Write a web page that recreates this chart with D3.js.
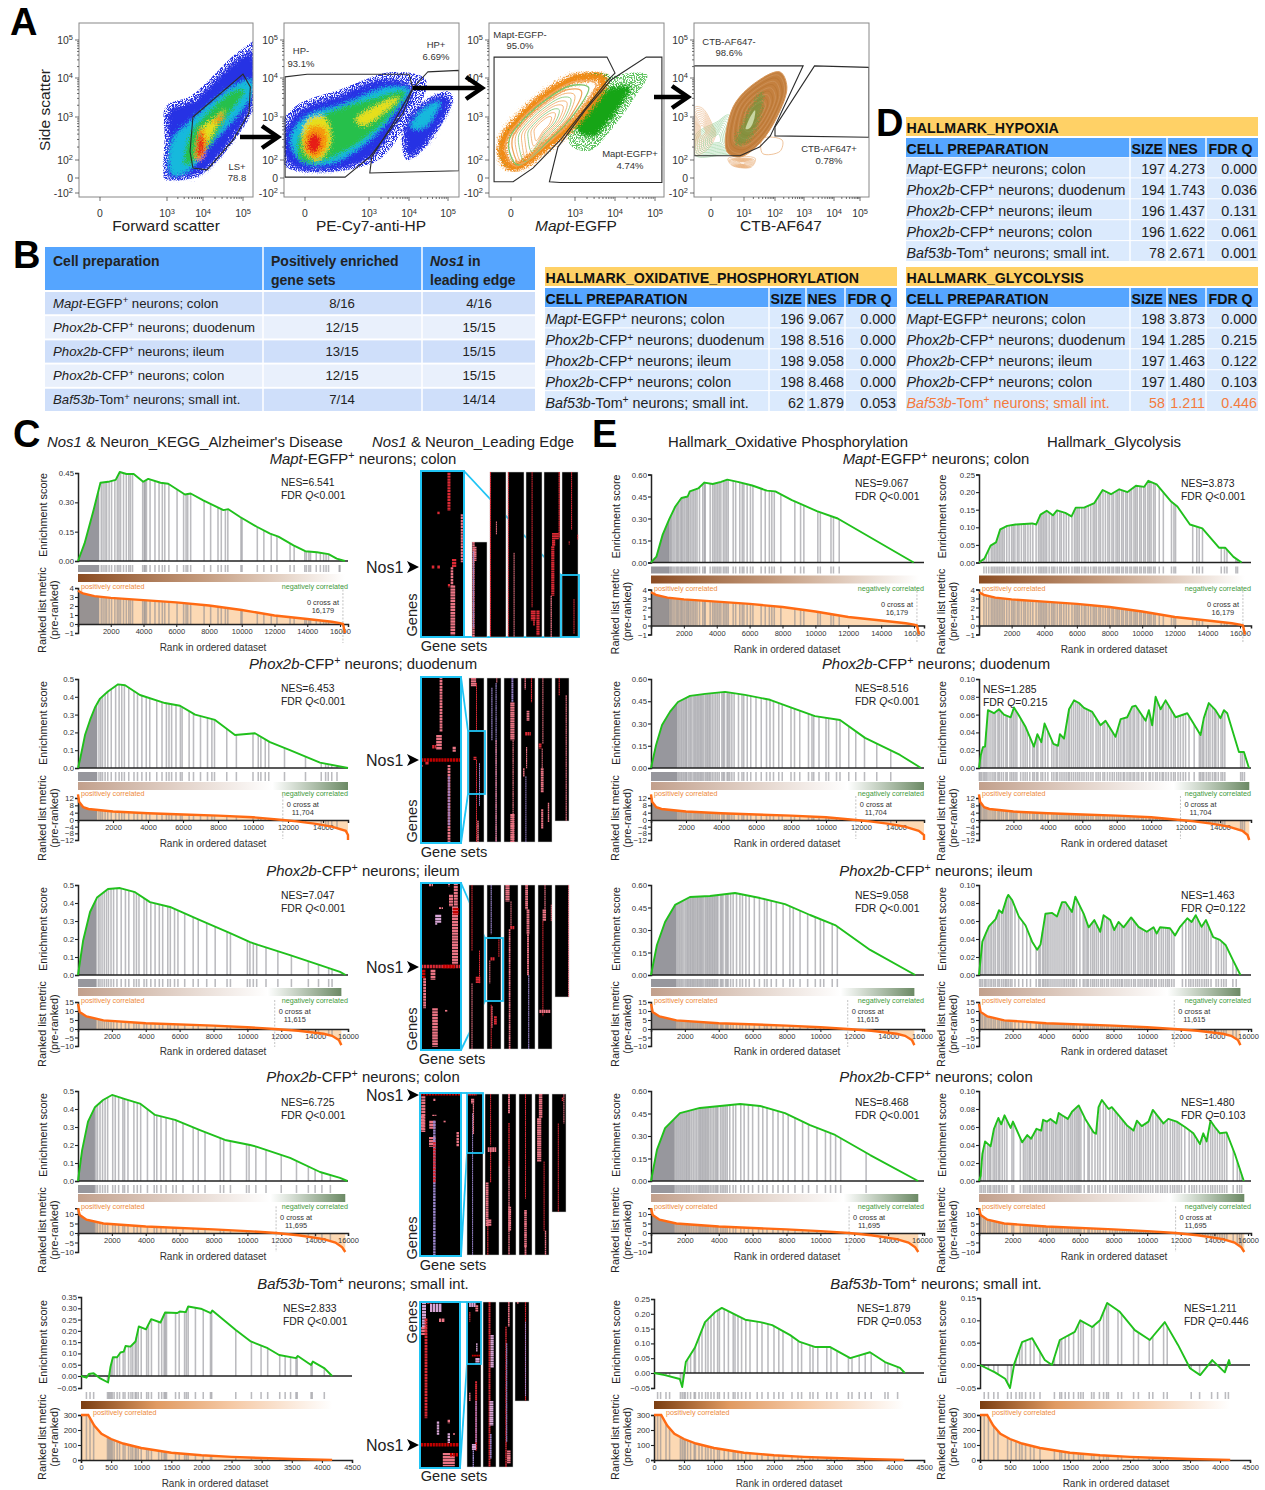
<!DOCTYPE html>
<html>
<head>
<meta charset="utf-8">
<script src="https://cdnjs.cloudflare.com/ajax/libs/d3/7.8.5/d3.min.js"></script>
<style>
body { margin: 0; background: #fff; }
text { font-family: "Liberation Sans", Arial, sans-serif; fill: #222; }
</style>
</head>
<body>
<svg id="fig" width="1265" height="1490"></svg>
<script>
// ---------- tables ----------
var prepLabels = [
  [["Mapt", "i"], ["-EGFP"], ["+", "s"], [" neurons; colon"]],
  [["Phox2b", "i"], ["-CFP"], ["+", "s"], [" neurons; duodenum"]],
  [["Phox2b", "i"], ["-CFP"], ["+", "s"], [" neurons; ileum"]],
  [["Phox2b", "i"], ["-CFP"], ["+", "s"], [" neurons; colon"]],
  [["Baf53b", "i"], ["-Tom"], ["+", "s"], [" neurons; small int."]]
];
var tableBEnriched = ["8/16", "12/15", "13/15", "12/15", "7/14"];
var tableBLeading = ["4/16", "15/15", "15/15", "15/15", "14/14"];

var hypoxiaSize = [197, 194, 196, 196, 78];
var hypoxiaNes = ["4.273", "1.743", "1.437", "1.622", "2.671"];
var hypoxiaFdr = ["0.000", "0.036", "0.131", "0.061", "0.001"];
var oxphosSize = [196, 198, 198, 198, 62];
var oxphosNes = ["9.067", "8.516", "9.058", "8.468", "1.879"];
var oxphosFdr = ["0.000", "0.000", "0.000", "0.000", "0.053"];
var glycSize = [198, 194, 197, 197, 58];
var glycNes = ["3.873", "1.285", "1.463", "1.480", "1.211"];
var glycFdr = ["0.000", "0.215", "0.122", "0.103", "0.446"];

// ---------- gsea: running score curves, [rank, score] ----------
var esAlz1 = [[0,0],[400,.09],[920,.25],[1370,.40],[1840,.405],[2300,.415],[2550,.455],[2960,.445],[3400,.445],[3980,.405],[4290,.42],[5040,.40],[5510,.395],[6530,.34],[6880,.345],[7650,.31],[8880,.26],[9180,.265],[9900,.225],[10920,.175],[11730,.14],[12240,.125],[13160,.08],[13880,.05],[14590,.045],[15300,.035],[15800,.012],[16300,0]];
var esAlz2 = [[0,0],[110,.045],[400,.185],[690,.27],[970,.34],[1260,.39],[1710,.43],[2290,.47],[2690,.465],[3540,.41],[4970,.365],[5830,.35],[6690,.30],[7830,.27],[8970,.185],[10110,.195],[10970,.145],[12110,.10],[13830,.03],[15430,0]];
var esAlz3 = [[0,0],[300,.19],[710,.35],[1120,.43],[1770,.478],[2480,.483],[3370,.46],[4250,.405],[5430,.378],[7200,.305],[8980,.233],[10160,.183],[10630,.167],[12520,.11],[14290,.055],[15470,.017],[15800,0]];
var esAlz4 = [[0,0],[240,.17],[590,.33],[1000,.41],[1480,.45],[2010,.478],[2780,.455],[3660,.43],[4550,.367],[5730,.34],[7200,.283],[8680,.228],[10160,.20],[10570,.19],[12520,.128],[14290,.05],[15470,.017],[15900,0]];
var esAlz5 = [[0,0],[90,-.007],[130,.009],[210,.012],[320,-.01],[450,-.027],[490,.041],[530,.083],[600,.083],[655,.104],[710,.108],[740,.133],[820,.13],[905,.153],[960,.22],[1080,.207],[1165,.252],[1320,.237],[1395,.281],[1600,.279],[1640,.286],[1740,.283],[1780,.308],[1990,.298],[2155,.279],[2180,.29],[2570,.204],[2820,.153],[3100,.123],[3290,.093],[3570,.079],[3600,.089],[3820,.049],[3850,.064],[4045,.034],[4170,0]];

var esOx1 = [[0,0],[330,.04],[710,.19],[1090,.29],[1470,.38],[1850,.44],[2230,.45],[2360,.485],[2870,.505],[3250,.545],[3750,.535],[4260,.55],[4640,.565],[5280,.55],[6160,.525],[7050,.49],[7560,.485],[8570,.425],[9200,.395],[10090,.35],[11360,.30],[15980,0]];
var esOx2 = [[0,0],[290,.155],[630,.29],[1090,.38],[1540,.445],[2230,.486],[3090,.50],[4230,.513],[5370,.493],[6800,.46],[7940,.41],[9370,.35],[10800,.324],[12230,.203],[14230,.088],[15430,0]];
var esOx3 = [[0,0],[350,.2],[830,.353],[1420,.467],[2300,.52],[3480,.527],[4960,.547],[6440,.513],[7910,.473],[9390,.40],[10870,.333],[12940,.167],[15600,0]];
var esOx4 = [[0,0],[350,.207],[830,.353],[1710,.453],[2890,.487],[4080,.50],[5260,.513],[6440,.50],[7910,.453],[9390,.373],[10870,.307],[12940,.173],[15770,0]];
var esOx5 = [[0,0],[180,-.007],[430,-.02],[470,-.047],[530,.037],[680,.085],[850,.172],[1020,.206],[1130,.22],[1520,.18],[1770,.172],[1970,.162],[2270,.128],[2430,.105],[2680,.088],[2930,.088],[3270,.05],[3600,.07],[3850,.037],[4100,.017],[4180,0]];

var esGly1 = [[0,0],[330,.011],[710,.048],[1040,.057],[1300,.094],[1730,.104],[2240,.108],[3260,.111],[3510,.108],[3770,.136],[4150,.147],[4530,.134],[4780,.148],[5290,.141],[5670,.131],[5930,.156],[6440,.156],[7070,.169],[7580,.206],[8090,.194],[8600,.208],[9110,.20],[9620,.218],[10130,.215],[10380,.232],[10890,.222],[11780,.173],[12160,.159],[12930,.108],[13690,.097],[14710,.042],[15090,.042],[15600,.016],[16100,0]];
var esGly2 = [[0,0],[100,.014],[230,.0235],[350,.024],[520,.065],[870,.0616],[1160,.066],[1450,.06],[1840,.057],[2030,.068],[2320,.059],[2710,.046],[3190,.024],[3390,.038],[3620,.029],[3810,.05],[4320,.027],[4590,.025],[4700,.038],[4940,.033],[5230,.066],[5520,.076],[5810,.073],[6100,.0675],[6580,.063],[7060,.048],[7350,.053],[7930,.035],[8230,.055],[8610,.057],[8900,.069],[9100,.07],[9680,.053],[9870,.065],[10060,.048],[10260,.08],[10550,.066],[10840,.076],[11420,.057],[12100,.0615],[12870,.037],[13060,.056],[13350,.073],[13740,.065],[14030,.056],[14230,.065],[14420,.0615],[15100,.018],[15390,.018],[15680,0]];
var esGly3 = [[0,0],[60,.011],[200,.037],[400,.046],[590,.054],[990,.062],[1190,.072],[1380,.069],[1640,.085],[1740,.089],[1980,.083],[2370,.065],[2770,.055],[3160,.037],[3460,.028],[3660,.034],[3950,.068],[4350,.069],[4640,.065],[4940,.081],[5140,.081],[5530,.07],[5730,.087],[6230,.068],[6520,.053],[6860,.061],[7210,.048],[7410,.0665],[7810,.061],[8040,.05],[8300,.059],[8600,.053],[9050,.064],[9490,.0535],[9980,.048],[10380,.053],[10570,.046],[10770,.053],[11360,.052],[11660,.044],[11960,.0535],[12390,.063],[12650,.059],[12890,.0665],[13240,.0535],[13500,.061],[13930,.042],[14330,.039],[14680,.033],[15120,.016],[15550,0]];
var esGly4 = [[0,0],[100,.006],[200,.03],[360,.044],[690,.0385],[890,.058],[1150,.07],[1320,.063],[1520,.073],[1880,.059],[2020,.066],[2570,.043],[2870,.051],[3100,.047],[3420,.058],[3700,.056],[3810,.068],[4050,.066],[4250,.069],[4600,.064],[4740,.0755],[4940,.073],[5280,.069],[5530,.077],[5930,.084],[6320,.069],[6820,.054],[6960,.0525],[7110,.082],[7310,.09],[7710,.08],[7900,.082],[8400,.071],[8790,.062],[9190,.056],[9390,.067],[9680,.061],[10080,.066],[10340,.079],[10970,.064],[11260,.069],[11760,.066],[12250,.06],[12750,.053],[13140,.041],[13340,.053],[13540,.044],[13770,.067],[14030,.06],[14330,.053],[14720,.054],[15220,.03],[15750,0]];
var esGly5 = [[0,0],[250,-.016],[420,-.03],[500,-.05],[570,.002],[700,.051],[870,.06],[1080,.011],[1200,0],[1330,.056],[1580,.074],[1670,.10],[1870,.085],[2000,.10],[2120,.139],[2330,.119],[2580,.078],[2830,.056],[3080,.096],[3300,.045],[3500,-.007],[3670,-.022],[3870,.011],[4080,-.016],[4150,.011],[4170,0]];

// ---------- gsea: gene hit ranks, and solid runs of hits ----------
var hitsAlz1 = [1420,1530,1650,1750,1900,2050,2250,2400,2500,2600,2780,2950,3100,3200,3330,3950,4050,4100,4180,4400,4700,4950,5150,5300,5550,6050,6450,6600,6700,6880,7700,8100,8550,8750,9000,9150,9950,10020,10950,11350,11800,12150,12950,13200,13850,13950,14100,14200,14550,14800,15000,15150,15300,15950,16000];
var hitsAlz2 = [1200,1300,1400,1550,1700,1900,2150,2350,2500,2650,2900,3200,3400,3650,3900,4100,4500,4800,5050,5200,5350,5600,5850,5950,6350,6600,7000,7400,7650,7800,8500,9050,10000,10300,10450,10700,10900,11800,13000,13900,14150,14300,14500,14800];
var hitsAlz3 = [1200,1300,1420,1550,1680,1800,1950,2100,2300,2550,2800,3000,3300,3450,3600,3900,4050,4300,4550,4800,5000,5300,5450,5700,5900,6300,6800,7100,7600,8100,8800,9000,10000,10150,10350,10550,11100,11800,12600,13600,14200,14800,15000];
var hitsAlz4 = [1050,1150,1300,1450,1600,1750,2050,2200,2400,2650,2750,2950,3300,3500,3700,4100,4500,4650,4900,5200,5600,5800,6200,6800,7100,7500,8400,8600,9000,9950,10100,10500,11100,12000,12900,13600,14000,14400,14900];
var hitsAlz5 = [90,150,210,440,460,480,500,520,550,600,640,700,730,790,830,860,900,920,950,1000,1090,1120,1170,1290,1340,1380,1400,1420,1570,1630,1720,1750,1780,1900,2030,2150,2170,2570,2830,2990,3100,3300,3390,3480,3570,3590,3820,3840,4040];

var hitsOx1 = [1130,1190,1260,1350,1450,1550,1620,1700,1800,1870,1950,2050,2150,2230,2300,2400,2500,2600,2700,2800,2950,3150,3250,3300,3600,3750,3850,3950,4050,4150,4250,4400,4500,4600,4700,5000,5150,5400,5550,5650,5850,6050,6200,6700,6950,7200,7350,7500,7900,8750,9100,9300,10150,10300,10950,11100,11450];
var hitsOx2 = [1540,1610,1690,1760,1840,1920,1990,2050,2150,2230,2300,2400,2480,2550,2630,2700,2780,2850,2920,3000,3100,3180,3250,3330,3400,3500,3600,3700,3800,3900,4050,4130,4200,4350,4420,4500,4620,4750,5000,5200,5300,5500,5700,6000,6300,6600,6800,7000,7300,7500,8000,8200,8500,9000,9200,9300,9600,10000,10150,10600,10800,11300,11700,12200,12900,13700];
var hitsOx3 = [1540,1620,1700,1780,1860,1950,2050,2130,2200,2280,2350,2430,2500,2570,2650,2730,2800,2880,2950,3020,3100,3200,3280,3350,3430,3500,3580,3650,3730,3800,3880,3950,4100,4170,4250,4400,4480,4550,4700,4850,5050,5250,5400,5600,5800,6100,6400,6700,6850,7100,7400,7800,8200,8400,8800,9250,9700,10000,10200,10700,11000];
var hitsOx4 = [1440,1520,1600,1680,1760,1840,1920,2000,2080,2150,2230,2300,2400,2500,2600,2700,2800,2880,2950,3030,3100,3180,3250,3330,3400,3500,3600,3700,3800,3880,3950,4100,4200,4300,4400,4500,4650,4850,5000,5300,5500,5750,6000,6350,6600,6850,7200,7500,7800,8100,8500,8950,9300,9800,10300,10600,10900,11200,12700];
var hitsOx5 = [60,110,200,260,440,470,500,520,560,610,670,690,750,800,860,900,950,1000,1060,1090,1170,1240,1320,1350,1400,1460,1530,1600,1720,1800,1900,2000,2080,2150,2300,2400,2460,2600,2650,2730,2880,2950,3050,3240,3300,3420,3520,3620,3850,3900,4060];

var hitsGly1 = [300,450,600,750,850,950,1050,1150,1250,1350,1450,1550,1700,1850,2000,2100,2200,2350,2450,2600,2750,2850,3000,3150,3300,3500,3650,3750,3850,3950,4050,4150,4300,4450,4550,4650,4800,4950,5050,5200,5350,5500,5700,5850,5950,6050,6150,6300,6450,6550,6700,6850,7000,7100,7200,7350,7450,7600,7750,7900,8000,8150,8250,8400,8500,8600,8750,8850,9000,9100,9250,9350,9500,9600,9700,9850,9950,10100,10200,10350,10450,10550,10700,10800,11050,11300,11800,11950,12050,13100,13350,13500,13700,14850,15050,15200,15750,15850];
var hitsGly2 = [20,80,160,260,340,420,520,640,760,870,960,1100,1180,1300,1420,1560,1640,1800,1900,2000,2100,2200,2420,2560,2680,2800,2950,3120,3210,3340,3420,3600,3700,3850,4000,4230,4350,4480,4560,4700,4820,4940,5060,5180,5260,5380,5500,5620,5740,5850,5980,6100,6240,6360,6500,6620,6800,6920,7040,7200,7300,7460,7600,7740,7860,8000,8120,8240,8380,8460,8600,8720,8820,8950,9040,9180,9280,9440,9540,9700,9880,9960,10100,10260,10360,10500,10640,10720,10860,11000,11160,11300,11400,11560,11700,11860,12000,12200,12500,12800,12880,12980,13060,13200,13320,13420,13560,13680,13760,13900,14060,14160,14280,15200,15300,15420];
var hitsGly3 = [40,120,220,340,420,540,660,760,880,980,1120,1210,1340,1450,1560,1640,1740,1860,1960,2140,2360,2600,2840,3060,3400,3560,3640,3780,3860,3960,4060,4160,4280,4400,4520,4640,4760,4880,5000,5100,5220,5340,5460,5580,5660,5800,6000,6200,6300,6420,6500,6640,6760,6860,6980,7100,7240,7340,7460,7600,7700,7860,7980,8100,8220,8340,8460,8540,8680,8800,8920,9060,9200,9300,9460,9580,9700,9840,9960,10060,10200,10300,10440,10540,10700,10840,10960,11100,11220,11320,11460,11600,12100,12300,12480,12600,12740,12880,13000,13120,13260,13400,13520,13640,13800,14100,14240,14420,14560,14700,15100,15300];
var hitsGly4 = [60,160,280,380,520,620,700,840,940,1040,1160,1240,1380,1520,1660,1960,2060,2460,2640,2740,2860,2980,3060,3180,3320,3420,3560,3660,3780,3860,3980,4060,4200,4320,4420,4540,4640,4760,4860,4960,5100,5240,5340,5460,5560,5680,5780,5880,5960,6060,6260,6480,6560,6720,6900,7060,7200,7400,7540,7780,7940,8100,8220,8380,8520,8640,8780,8900,9000,9120,9260,9400,9540,9640,9780,9920,10060,10200,10340,10520,10640,10800,10920,11060,11200,11380,11520,11640,11780,11900,12040,12240,12500,12660,12800,12940,13120,13300,13460,13620,13780,13900,14040,14180,14320,14460,14600,14740,15120,15360,15500,15620];
var hitsGly5 = [70,140,230,300,460,520,600,660,700,760,840,900,1000,1240,1330,1360,1420,1480,1560,1640,1680,1720,1860,1900,1990,2060,2110,2140,2300,2360,2560,2640,2820,2880,3060,3120,3520,3660,3860,3960,4090,4140];

var bandsAlz1 = [[0,1300]], bandsAlz2 = [[0,1100]], bandsAlz3 = [[0,1100]], bandsAlz4 = [[0,1000]], bandsAlz5 = [];
var bandsOx1 = [[0,1100]], bandsOx2 = [[0,1500]], bandsOx3 = [[0,1500]], bandsOx4 = [[0,1400]], bandsOx5 = [];

// ---------- gsea: ranked list metric, [rank, metric] ----------
var metricMapt = [[0,3.7],[300,3.4],[1000,3.1],[2000,2.9],[4000,2.65],[6000,2.4],[8000,2.05],[10000,1.55],[12000,.95],[14000,.55],[15500,.25],[16000,.1],[16179,0],[16230,-.4],[16300,-1]];
var metricDuo = [[0,14],[60,10],[300,7],[600,6],[2000,4.6],[4000,3.7],[6000,3],[8000,2.4],[10000,1.5],[11704,0],[12500,-.8],[13500,-2.2],[14500,-4],[15300,-6.5],[15600,-9],[15700,-12]];
var metricIle = [[0,14],[100,9.5],[500,7],[1500,4.8],[4000,3.2],[8000,1.9],[10000,1],[11615,0],[13000,-1],[14500,-2.8],[15000,-4],[15400,-6.5],[15550,-9.5]];
var metricCol = [[0,13],[100,9.5],[500,7],[1500,5],[4000,3.4],[8000,1.9],[10000,1],[11695,0],[13000,-1.2],[14500,-3.2],[15200,-5],[15600,-7.5],[15780,-10]];
var metricBaf = [[0,300],[120,300],[220,230],[340,175],[500,140],[700,110],[1000,80],[1500,48],[2000,32],[2500,21],[3000,13],[3500,7],[4170,1]];

var xTicks14 = [2000,4000,6000,8000,10000,12000,14000];
var xTicks16 = [2000,4000,6000,8000,10000,12000,14000,16000];
var xTicksBaf = [0,500,1000,1500,2000,2500,3000,3500,4000,4500];
var metricTicks = [[-1,0,1,2,3,4],[-12,-8,-4,0,4,8,12],[-10,-5,0,5,10,15],[-10,-5,0,5,10],[0,100,200,300]];
var esTicksAlz = [[0,.15,.3,.45],[0,.1,.2,.3,.4,.5],[0,.1,.2,.3,.4,.5],[0,.1,.2,.3,.4,.5],[-.05,0,.05,.1,.15,.2,.25,.3,.35]];
var esTicksOx = [[0,.15,.3,.45,.6],[0,.15,.3,.45,.6],[0,.15,.3,.45,.6],[0,.15,.3,.45,.6],[-.05,0,.05,.1,.15,.2,.25]];
var esTicksGly = [[0,.05,.1,.15,.2,.25],[0,.02,.04,.06,.08,.1],[0,.02,.04,.06,.08,.1],[0,.02,.04,.06,.08,.1],[-.05,0,.05,.1,.15]];

var nesAlz = ["6.541","6.453","7.047","6.725","2.833"];
var fdrAlz = ["<0.001","<0.001","<0.001","<0.001","<0.001"];
var nesOx = ["9.067","8.516","9.058","8.468","1.879"];
var fdrOx = ["<0.001","<0.001","<0.001","<0.001","=0.053"];
var nesGly = ["3.873","1.285","1.463","1.480","1.211"];
var fdrGly = ["<0.001","=0.215","=0.122","=0.103","=0.446"];
var zeroCross = [16179, 11704, 11615, 11695, null];

// ---------- leading edge heat maps: [strip, column, width, top, bottom, kind] ----------
// strip 0 is the enlarged one; everything else is a fraction of the strip
var heatMarks1 = [
  [0,.65,.07,.01,.24,"r"],[0,.41,.06,.245,.26,"r"],[0,.95,.05,.26,.55,"p"],[0,.28,.06,.57,.59,"r"],[0,.41,.06,.57,.59,"r"],[0,.77,.1,.53,.58,"r"],[0,.72,.06,.58,.69,"p"],[0,.65,.05,.68,.7,"r"],[0,.74,.11,.69,.99,"p"],
  [1,.1,.16,0,1,"p"],[1,.2,.2,.05,.2,"p"],[1,.1,.07,.1,.9,"b"],
  [2,.03,.07,0,1,"r"],[2,.4,.06,.3,.38,"p"],[3,.02,.05,0,1,"r"],[3,.38,.05,.49,1,"p"],
  [4,.38,.05,0,.82,"r"],[4,.45,.3,.84,.9,"r"],[4,.75,.2,.84,.99,"r"],[4,.5,.1,.88,.93,"r"],
  [5,.95,.08,0,.4,"r"],[5,.6,.2,.37,.45,"r"],[5,.55,.2,.45,.75,"r"],[5,.45,.08,.75,1,"p"],[5,.8,.25,.37,.41,"r"],
  [6,.6,.04,0,.35,"r"],[6,.98,.04,.38,.41,"r"],[6,.75,.06,.77,.98,"r"],[6,.45,.06,.42,.44,"r"]
];
var heatMarks2 = [
  [0,.5,.07,0,.33,"p"],[0,.45,.14,.35,.44,"p"],[0,.33,.1,.41,.43,"r"],[0,.83,.08,.42,.45,"p"],[0,.5,1,.49,.51,"d"],[0,.02,.05,.53,.54,"r"],[0,.15,.08,.51,.53,"r"],[0,.7,.07,.53,1,"p"],[0,.7,.04,.6,.9,"b"],
  [1,.3,.35,0,.05,"p"],[1,.5,.05,.03,.32,"r"],[1,.4,.2,.48,.5,"r"],[1,.5,.05,.5,1,"r"],[1,.7,.05,.52,.78,"b"],[1,.6,.1,.87,1,"p"],
  [2,.35,.08,.06,.38,"b"],[2,.7,.06,0,.03,"p"],[2,.65,.08,.03,1,"b"],[2,.65,.08,.38,1,"p"],
  [3,.6,.14,0,.15,"b"],[3,.6,.3,.15,.38,"p"],[3,.65,.08,.38,1,"p"],[3,.6,.3,.83,1,"p"],
  [4,.3,.1,0,.07,"p"],[4,.75,.08,0,.15,"r"],[4,.5,.2,.2,.26,"p"],[4,.5,.4,.33,.35,"r"],[4,.4,.08,.42,.55,"p"],[4,.2,.1,.55,.6,"p"],[4,.35,.05,.6,1,"b"],
  [5,.35,.06,0,.4,"p"],[5,.15,.2,.4,.43,"r"],[5,.3,.05,.43,.55,"p"],[5,.3,.2,.55,.7,"p"],[5,.3,.15,.8,.92,"p"],[5,.75,.1,.76,.88,"p"],
  [6,.3,.08,0,.12,"r"],[6,.8,.08,.12,1,"p"]
];
var heatMarks3 = [
  [0,.25,.1,0,.02,"p"],[0,.7,.05,0,.02,"p"],[0,.87,.1,0,.14,"p"],[0,.75,.1,.07,.14,"p"],[0,.85,.15,.14,.49,"p"],[0,.87,.14,.15,.19,"d"],[0,.5,.1,.145,.155,"p"],[0,.43,.15,.19,.24,"l"],[0,.38,.05,.24,.25,"l"],[0,.5,1,.49,.51,"r"],[0,.7,.3,.49,.51,"d"],[0,.05,.12,.52,.57,"d"],[0,.09,.07,.57,.75,"p"],[0,.3,.12,.52,.58,"p"],[0,.35,.14,.75,.98,"p"],[0,.63,.06,.76,.77,"p"],
  [1,.2,.05,0,.4,"r"],[1,.7,.05,.4,.6,"r"],[1,.6,.3,.56,.6,"r"],[1,.2,.05,.6,1,"p"],
  [2,.3,.08,0,.3,"b"],[2,.85,.06,.32,.44,"r"],[2,.4,.3,.44,.46,"r"],[2,.2,.06,.46,.6,"p"],[2,.35,.1,.74,.87,"p"],[2,.6,.2,.8,.85,"r"],[2,.3,.06,.73,1,"r"],
  [3,.25,.3,0,.1,"p"],[3,.5,.06,.1,.26,"p"],[3,.6,.3,.25,.27,"r"],[3,.4,.12,.27,1,"p"],
  [4,.4,.2,0,.15,"p"],[4,.5,.2,.15,.3,"p"],[4,.5,.14,.3,.55,"p"],[4,.55,.08,.55,1,"b"],
  [5,.5,.08,0,.15,"p"],[5,.45,.25,.15,.22,"p"],[5,.95,.04,.12,.22,"p"],[5,.35,.05,.22,.8,"r"],[5,.5,.8,.76,.78,"p"],
  [6,.97,.05,0,1,"p"]
];
var heatMarks4 = [
  [0,.5,1,0,.015,"d"],[0,.08,.1,.02,.24,"p"],[0,.05,.12,.14,.23,"p"],[0,.35,.05,.035,.05,"p"],[0,.35,.1,.135,.14,"p"],[0,.6,.05,.17,.18,"p"],[0,.3,.15,.17,.22,"p"],[0,.3,.16,.27,.33,"p"],[0,.35,.06,.17,1,"b"],[0,.35,.06,.3,.55,"r"],[0,.92,.06,.24,.33,"p"],
  [1,.35,.05,.12,1,"b"],[1,.3,.6,0,.01,"r"],[1,.35,.2,.03,.06,"p"],[1,.4,.08,.06,.25,"p"],
  [2,.4,.05,0,.32,"r"],[2,.5,.6,.33,.36,"p"],[2,.15,.2,.55,.82,"p"],[2,.4,.08,.36,.55,"r"],[2,.3,.3,.78,.82,"p"],[2,.2,.08,.82,1,"r"],
  [3,.5,.14,0,.12,"p"],[3,.5,.1,.18,.45,"r"],[3,.55,.2,.7,.85,"p"],[3,.5,.1,.45,1,"p"],
  [4,.5,.08,0,.65,"r"],[4,.5,.2,.72,.95,"p"],[4,.5,.14,.95,1,"p"],
  [5,.4,.25,0,.15,"p"],[5,.3,.3,.15,.42,"p"],[5,.65,.05,.42,.85,"r"],[5,.75,.1,.85,1,"p"],
  [6,.85,.06,0,.25,"p"],[6,.45,.05,.25,1,"r"],[6,.75,.1,.03,.06,"r"]
];
var heatMarks5 = [
  [0,.4,.3,.01,.06,"l"],[0,.1,.1,0,.15,"l"],[0,.1,.14,.15,.2,"p"],[0,.15,.07,.1,.7,"r"],[0,.22,.1,0,.01,"r"],[0,.55,.15,.1,.12,"p"],[0,.45,.06,.72,.8,"l"],[0,.72,.06,.71,.73,"p"],[0,.72,.06,.79,.85,"l"],[0,.85,.05,.79,.8,"p"],[0,.5,.95,.85,.87,"d"],[0,.72,.3,.91,.99,"p"],[0,.85,.2,.91,.93,"d"],
  [1,.4,.5,0,.03,"l"],[1,.7,.2,.02,.06,"p"],[1,.2,.08,.06,.12,"r"],[1,.7,.1,.25,.3,"l"],[1,.75,.8,.32,.33,"d"],[1,.75,.3,.34,.38,"l"],[1,.65,.14,.48,.9,"r"],[1,.65,.1,.6,.85,"b"],[1,.5,.3,.86,.9,"l"],[1,.45,.1,.9,1,"b"],[1,.2,.1,.55,.6,"p"],
  [2,.5,.15,0,1,"r"],[2,.7,.25,.2,.4,"l"],[2,.65,.3,.6,.75,"l"],[2,.6,.12,.8,.95,"b"],
  [3,.7,.12,0,.15,"p"],[3,.5,.1,.15,1,"r"],[3,.55,.08,.25,.85,"b"],[3,.7,.25,.9,.98,"p"],
  [4,.75,.08,0,1,"r"],[4,.75,.04,.2,.95,"b"],[4,.2,.1,0,.02,"p"]
];

// ---------- flow cytometry, polygons in decades of signal ----------
var flow1Density = [
  [0,[[3.03,.1],[3.03,2.53],[3.08,3.17],[3.72,3.41],[4.75,4.39],[5.25,4.65],[5.25,3.33],[4.75,2.53],[3.92,.55],[3.14,0]]],
  [1,[[3.14,.33],[3.14,2.46],[3.64,2.9],[4.8,3.82],[5.25,3.95],[5.25,3.56],[4.05,2.2],[3.64,.9]]],
  [2,[[3.5,1.45],[3.64,2.58],[4.18,3.17],[4.8,3.69],[5.05,3.69],[4.55,2.93],[4.05,2.2]]],
  [3,[[3.85,2.1],[3.95,2.7],[4.4,3.05],[4.55,3.2],[4.4,2.9],[4.05,2.3]]],
  [4,[[3.82,2.0],[3.84,2.5],[3.95,2.75],[4.08,2.5],[4.0,2.05]]],
  [4,[[4.25,2.85],[4.5,3.1],[4.45,2.9]]],
  [5,[[3.87,2.1],[3.87,2.45],[3.95,2.62],[4.01,2.45],[3.97,2.12]]]
];
var flow2Density = [
  [0,[[-1,2.58],[-.24,3.17],[1.64,3.56],[3.27,3.95],[4.03,3.82],[4.08,3.56],[3.65,2.81],[3.02,2.05],[1.17,.9],[-.7,1.5]]],
  [0,[[3.9,2.7],[4.15,3.17],[4.92,3.56],[5.05,3.4],[4.4,2.35],[4.0,2.1]]],
  [1,[[4.05,2.75],[4.3,3.15],[4.8,3.4],[4.4,2.75]]],
  [1,[[-.7,2.5],[0,3.0],[1.9,3.35],[3.4,3.75],[4.0,3.7],[3.6,3.05],[3.0,2.45],[1.2,1.6],[-.2,1.9]]],
  [2,[[-.3,2.5],[.7,3],[3,3.45],[3.9,3.65],[3.45,2.95],[2.2,2.3],[.7,1.8],[-.2,2]]],
  [3,[[-.05,2.2],[.1,2.9],[.9,3],[1.2,2.4],[.6,2]]],
  [3,[[2.4,2.95],[3.4,3.4],[3.75,3.5],[3.3,3.05],[2.7,2.8]]],
  [4,[[0,2.25],[.2,2.75],[.9,2.75],[1,2.3],[.5,2.05]]],
  [5,[[.1,2.3],[.3,2.6],[.7,2.55],[.7,2.3],[.4,2.15]]]
];
var flow3Cloud = [[2.77,2.7],[3.3,3.44],[3.9,3.95],[4.7,4],[4.4,3.44],[3.9,2.76],[3.4,2.3],[2.9,2.4]];
var flow3Band = [[-.35,2.46],[.05,2.77],[1.5,3.5],[3.05,4],[3.7,3.95],[3.2,3.1],[1.85,2.4],[.1,1.2],[-.35,2.07]];
var flow4Main = [[.48,2.2],[.67,3.26],[1.4,3.9],[2.17,4.16],[2.41,3.77],[2.07,3],[1.52,2.4],[.88,2.07]];
var flow4Inner = [[.75,2.35],[1.05,3],[1.6,3.65],[1.55,3.1],[1.15,2.45]];
var flow4Left = [[-.5,3.3],[-.25,3.27],[.06,2.85],[.18,2.6],[-.1,2.2],[-.5,2.07]];
var flow4Green = [[-.5,2.6],[.18,2.92],[.58,3.1],[.8,2.2],[.18,2.07],[-.5,2.07]];
var flow4Bottom = [[.48,2.07],[1.4,2.07],[1.27,1.2],[.88,1.1],[.58,1.45]];
var flow4Side = [[1.6,2.5],[2.25,2.46],[2.17,2.2],[1.6,2.15]];
var contourLevels = [.92,.84,.76,.68,.6,.52,.44,.36,.28,.2];

var gatesFlow1 = [[[3.72,3],[5,4.1],[5.22,3.77],[5.18,3.1],[4.75,2.46],[4.1,.9],[3.72,1.1],[3.64,2.2]]];
var gatesFlow2 = [
  [[-.95,4.03],[.1,4.1],[4,4.1],[4.1,3.74],[3.85,3.1],[3.02,2.07],[1.88,.1],[-.95,.1]],
  [[4.48,4.16],[5.3,4.2],[5.3,.8],[3.02,.55],[3.07,2.07],[3.6,2.85],[4.1,3.74]]
];
var gatesFlow3 = [
  [[-.77,4.55],[3.8,4.55],[4,4.13],[3.83,3.95],[2.3,2.46],[1.03,1.1],[.1,-.5],[-.77,-.5]],
  [[4.78,4.55],[5.23,4.55],[5.23,-.6],[2.3,-.6],[1.8,-.5],[2.2,2.3],[3.25,3.17],[3.9,3.95]]
];
var gatesFlow4 = [
  [[-.5,4.32],[2.97,4.32],[1.85,2.56],[1.5,2.3],[.88,2.1],[-.5,2.1]],
  [[3.35,4.32],[5.35,4.28],[5.35,2.53],[2,2.56],[2,2.77]]
];
var flowYTicks = [-2,0,2,3,4,5];
var flowXTicks = [[0,3,4,5],[0,3,4,5],[0,3,4,5],[0,1,2,3,4,5]];

// ---------- drawing ----------
var svg = d3.select("#fig");
var defs = svg.append("defs");

var grain = defs.append("filter").attr("id", "grain").attr("x", "-5%").attr("y", "-5%").attr("width", "110%").attr("height", "110%");
grain.append("feGaussianBlur").attr("in", "SourceGraphic").attr("stdDeviation", 1.6).attr("result", "soft");
grain.append("feTurbulence").attr("type", "fractalNoise").attr("baseFrequency", .75).attr("numOctaves", 2).attr("seed", 4).attr("result", "noise");
grain.append("feDisplacementMap").attr("in", "soft").attr("in2", "noise").attr("scale", 11).attr("xChannelSelector", "R").attr("yChannelSelector", "G");

var speck = defs.append("filter").attr("id", "speck").attr("x", "-5%").attr("y", "-5%").attr("width", "110%").attr("height", "110%");
speck.append("feTurbulence").attr("type", "fractalNoise").attr("baseFrequency", .9).attr("numOctaves", 1).attr("seed", 9).attr("result", "noise");
speck.append("feColorMatrix").attr("in", "noise").attr("type", "matrix").attr("values", "0 0 0 0 0 0 0 0 0 0 0 0 0 0 0 0 0 0 11 -5.0").attr("result", "dots");
speck.append("feComposite").attr("in", "SourceGraphic").attr("in2", "dots").attr("operator", "in");

function rich(t, segs) {
  var lift = false;
  segs.forEach(function(s) {
    var sp = t.append("tspan").text(s[0]);
    if (s[1] == "i") sp.attr("font-style", "italic");
    if (lift) { sp.attr("dy", "0.32em"); lift = false; }
    if (s[1] == "s") { sp.attr("font-size", "0.72em").attr("dy", "-0.45em"); lift = true; }
  });
  return t;
}
function label(x, y, txt, size, anchor, color) {
  var t = svg.append("text").attr("x", x).attr("y", y).attr("font-size", size)
    .attr("text-anchor", anchor || "start").style("fill", color || "#222");
  if (txt != null) t.text(txt);
  return t;
}
function vlabel(x, y, txt, size) {
  return svg.append("text").attr("transform", "translate(" + x + "," + y + ") rotate(-90)")
    .attr("text-anchor", "middle").attr("font-size", size).style("fill", "#222").text(txt);
}

// panel letters
[["A",10,35],["B",13,268],["C",13,447],["D",876,136],["E",592,447]].forEach(function(d) {
  label(d[1], d[2], d[0], 38).attr("font-weight", "bold").style("fill", "#000");
});

// ---------- panel A ----------
var jet = ["#2630e4", "#17b9dc", "#25c04c", "#e6df1e", "#f5980f", "#e61d16"];
var flowX = [
  d3.scaleLinear().domain([-1,0,3,4,5,5.3]).range([79,100,167,203,243,253]),
  d3.scaleLinear().domain([-1,0,3,4,5,5.3]).range([284,305,369,409,448,459]),
  d3.scaleLinear().domain([-1,0,3,4,5,5.3]).range([489,511,575,615,655,664]),
  d3.scaleLinear().domain([-.5,0,1,2,3,4,5,5.35]).range([694,711,744,775,804,834,860,869])
];
var flowY = d3.scaleLinear().domain([-2.6,-2,0,2,3,4,5,5.45]).range([197,193,178,160,117,78,40,23]);
var flowLine = function(i, curve) {
  return d3.line().x(function(d) { return flowX[i](d[0]); }).y(function(d) { return flowY(d[1]); }).curve(curve);
};
function shrink(poly, f) {
  var c = d3.polygonCentroid(poly);
  return poly.map(function(p) { return [c[0] + (p[0] - c[0]) * f, c[1] + (p[1] - c[1]) * f]; });
}

flowX.forEach(function(x, i) {
  var x0 = x.range()[0], x1 = x.range()[x.range().length - 1];
  var clip = defs.append("clipPath").attr("id", "flowclip" + i);
  clip.append("rect").attr("x", x0).attr("y", 23).attr("width", x1 - x0).attr("height", 174);
  var g = svg.append("g").attr("clip-path", "url(#flowclip" + i + ")");
  var smooth = flowLine(i, d3.curveCatmullRomClosed);
  var straight = flowLine(i, d3.curveLinearClosed);

  if (i < 2) {
    var layers = i == 0 ? flow1Density : flow2Density;
    layers.filter(function(l) { return l[0] == 0; }).forEach(function(l) {
      g.append("path").attr("d", smooth(shrink(l[1], 1.14))).attr("fill", jet[0]).attr("filter", "url(#speck)");
    });
    var dens = g.append("g").attr("filter", "url(#grain)");
    layers.forEach(function(l) {
      dens.append("path").attr("d", smooth(l[1])).attr("fill", jet[l[0]]);
    });
  }
  if (i == 2) {
    g.append("path").attr("d", smooth(shrink(flow3Cloud, 1.1))).attr("fill", "#5fc45f").attr("filter", "url(#speck)");
    g.append("path").attr("d", smooth(shrink(flow3Cloud, .72))).attr("fill", "#16a516").attr("filter", "url(#grain)");
    g.append("path").attr("d", smooth(shrink(flow3Band, 1.08))).attr("fill", "#2fa82f").attr("filter", "url(#speck)");
    g.append("path").attr("d", smooth(flow3Band)).attr("fill", "#fff");
    var band = g.append("g").attr("filter", "url(#grain)");
    band.append("path").attr("d", smooth(flow3Band)).attr("fill", "none").attr("stroke", "#f08a16").attr("stroke-width", 9);
    contourLevels.forEach(function(f, k) {
      g.append("path").attr("d", smooth(shrink(flow3Band, f))).attr("fill", "none")
        .attr("stroke", k % 3 == 1 ? "#7cc46c" : "#f0a45c").attr("stroke-width", k < 3 ? 1.3 : .8);
    });
  }
  if (i == 3) {
    contourLevels.forEach(function(f) {
      g.append("path").attr("d", smooth(shrink(flow4Left, f))).attr("fill", "none").attr("stroke", "#eab587").attr("stroke-width", .6);
      g.append("path").attr("d", smooth(shrink(flow4Green, f))).attr("fill", "none").attr("stroke", "#8fcf95").attr("stroke-width", .6);
      g.append("path").attr("d", smooth(shrink(flow4Bottom, f))).attr("fill", "none").attr("stroke", "#e8a970").attr("stroke-width", .6);
    });
    g.append("path").attr("d", smooth(flow4Side)).attr("fill", "none").attr("stroke", "#e8a970").attr("stroke-width", .7);
    g.append("path").attr("d", smooth(flow4Main)).attr("fill", "#c4803f").attr("stroke", "#d89a5e");
    contourLevels.forEach(function(f, k) {
      g.append("path").attr("d", smooth(shrink(flow4Main, f))).attr("fill", "none")
        .attr("stroke", k % 2 ? "#b87430" : "#cf9660").attr("stroke-width", .7);
    });
    g.append("path").attr("d", smooth(flow4Inner)).attr("fill", "#55a03f").attr("opacity", .55).attr("filter", "url(#grain)");
    g.append("path").attr("d", smooth(shrink(flow4Inner, .35))).attr("fill", "#c9d6a2");
  }
  [gatesFlow1, gatesFlow2, gatesFlow3, gatesFlow4][i].forEach(function(p) {
    g.append("path").attr("d", straight(p)).attr("fill", "none").attr("stroke", "#2c2c2c").attr("stroke-width", 1.1);
  });
  svg.append("rect").attr("x", x0).attr("y", 23).attr("width", x1 - x0).attr("height", 174)
    .attr("fill", "none").attr("stroke", "#888").attr("stroke-width", 1);

  // minor and major ticks
  var mt = svg.append("g").attr("stroke", "#333").attr("stroke-width", .7);
  [2,3,4].forEach(function(dec) {
    d3.range(2,10).forEach(function(k) {
      var v = dec + Math.log10(k);
      mt.append("line").attr("x1", x0).attr("x2", x0 - 2).attr("y1", flowY(v)).attr("y2", flowY(v));
    });
  });
  flowXTicks[i].slice(1).forEach(function(dec) {
    if (dec > 4) return;
    d3.range(2,10).forEach(function(k) {
      var v = dec + Math.log10(k);
      mt.append("line").attr("y1", 197).attr("y2", 199).attr("x1", x(v)).attr("x2", x(v));
    });
  });
  flowYTicks.forEach(function(v) {
    mt.append("line").attr("x1", x0).attr("x2", x0 - 4).attr("y1", flowY(v)).attr("y2", flowY(v));
    var t = label(x0 - 6, flowY(v) + 3.5, null, 10.4, "end", "#333");
    if (v == 0) t.text("0");
    else rich(t, [[v < 0 ? "-10" : "10"], [String(Math.abs(v)), "s"]]);
  });
  flowXTicks[i].forEach(function(v) {
    mt.append("line").attr("y1", 197).attr("y2", 201).attr("x1", x(v)).attr("x2", x(v));
    var t = label(x(v), 217, null, 10.4, "middle", "#333");
    if (v == 0) t.text("0");
    else rich(t, [["10"], [String(v), "s"]]);
  });
});

[[237,170,"LS+"],[237,181,"78.8"],[301,54,"HP-"],[301,67,"93.1%"],[436,48,"HP+"],[436,60,"6.69%"],[520,38,"Mapt-EGFP-"],[520,49,"95.0%"],[630,157,"Mapt-EGFP+"],[630,169,"4.74%"],[729,45,"CTB-AF647-"],[729,56,"98.6%"],[829,152,"CTB-AF647+"],[829,164,"0.78%"]].forEach(function(d) {
  label(d[0], d[1], d[2], 9.5, "middle", "#333");
});
vlabel(50, 110, "Side scatter", 15.5);
label(166, 231, "Forward scatter", 15.5, "middle");
label(371, 231, "PE-Cy7-anti-HP", 15.5, "middle");
rich(label(576, 231, null, 15.5, "middle"), [["Mapt", "i"], ["-EGFP"]]);
label(781, 231, "CTB-AF647", 15.5, "middle");

[[240,278,137],[413,482,88],[654,688,97]].forEach(function(a) {
  svg.append("line").attr("x1", a[0]).attr("x2", a[1] - 3).attr("y1", a[2]).attr("y2", a[2]).attr("stroke", "#000").attr("stroke-width", 4.5);
  svg.append("polyline").attr("points", [[a[1] - 16, a[2] - 11], [a[1], a[2]], [a[1] - 16, a[2] + 11]].join(" "))
    .attr("fill", "none").attr("stroke", "#000").attr("stroke-width", 4.5);
});

// ---------- tables ----------
var blue = "#55a5ff", gold = "#ffd166";
svg.append("rect").attr("x", 45).attr("y", 247).attr("width", 490).attr("height", 43).attr("fill", blue);
label(53, 266, "Cell preparation", 14).attr("font-weight", "bold");
label(271, 266, "Positively enriched", 14).attr("font-weight", "bold");
label(271, 285, "gene sets", 14).attr("font-weight", "bold");
rich(label(430, 266, null, 14), [["Nos1", "i"], [" in"]]).attr("font-weight", "bold");
label(430, 285, "leading edge", 14).attr("font-weight", "bold");
var rowB = d3.scaleBand().domain(d3.range(5)).range([292, 411]).paddingInner(.08);
prepLabels.forEach(function(p, i) {
  svg.append("rect").attr("x", 45).attr("y", rowB(i)).attr("width", 490).attr("height", rowB.bandwidth())
    .attr("fill", i % 2 ? "#e9f0fc" : "#cfdffa");
  var y = rowB(i) + rowB.bandwidth() / 2 + 4.5;
  rich(label(53, y, null, 13.2), p);
  label(342, y, tableBEnriched[i], 13.2, "middle");
  label(479, y, tableBLeading[i], 13.2, "middle");
});
[263,422].forEach(function(x) {
  svg.append("line").attr("x1", x).attr("x2", x).attr("y1", 247).attr("y2", 411).attr("stroke", "#fff").attr("stroke-width", 1.5);
});

function gseaTable(x0, yTop, title, sizes, nes, fdr, warnLast) {
  var w = 352;
  svg.append("rect").attr("x", x0).attr("y", yTop).attr("width", w).attr("height", 19).attr("fill", gold);
  label(x0 + .5, yTop + 16, title, 14.2).attr("font-weight", "bold").style("fill", "#111");
  svg.append("rect").attr("x", x0).attr("y", yTop + 21).attr("width", w).attr("height", 19).attr("fill", blue);
  label(x0 + .5, yTop + 37, "CELL PREPARATION", 14.2).attr("font-weight", "bold").style("fill", "#111");
  label(x0 + 225.5, yTop + 37, "SIZE", 14.2).attr("font-weight", "bold").style("fill", "#111");
  label(x0 + 262.5, yTop + 37, "NES", 14.2).attr("font-weight", "bold").style("fill", "#111");
  label(x0 + 302.5, yTop + 37, "FDR Q", 14.2).attr("font-weight", "bold").style("fill", "#111");
  var rowY = d3.scaleBand().domain(d3.range(5)).range([yTop + 40.5, yTop + 144]).paddingInner(.05);
  prepLabels.forEach(function(p, i) {
    svg.append("rect").attr("x", x0).attr("y", rowY(i)).attr("width", w).attr("height", rowY.bandwidth()).attr("fill", "#dbeafd");
    var y = rowY(i) + rowY.bandwidth() / 2 + 7;
    var c = (warnLast && i == 4) ? "#f47a3c" : "#222";
    var t = rich(label(x0 + .5, y, null, 14.3, "start", c), p);
    t.selectAll("tspan").style("fill", c);
    label(x0 + 259, y, sizes[i], 14.3, "end", c);
    label(x0 + 299, y, nes[i], 14.3, "end", c);
    label(x0 + 351, y, fdr[i], 14.3, "end", c);
  });
  [224,261,300].forEach(function(dx) {
    svg.append("line").attr("x1", x0 + dx).attr("x2", x0 + dx).attr("y1", yTop + 21).attr("y2", yTop + 144).attr("stroke", "#fff").attr("stroke-width", 1.4);
  });
}
gseaTable(906, 117, "HALLMARK_HYPOXIA", hypoxiaSize, hypoxiaNes, hypoxiaFdr, false);
gseaTable(545, 267, "HALLMARK_OXIDATIVE_PHOSPHORYLATION", oxphosSize, oxphosNes, oxphosFdr, false);
gseaTable(906, 267, "HALLMARK_GLYCOLYSIS", glycSize, glycNes, glycFdr, true);

// ---------- panels C and E: titles ----------
rich(label(47, 447, null, 14.9), [["Nos1", "i"], [" & Neuron_KEGG_Alzheimer's Disease"]]);
rich(label(372, 447, null, 14.9), [["Nos1", "i"], [" & Neuron_Leading Edge"]]);
label(788, 447, "Hallmark_Oxidative Phosphorylation", 14.9, "middle");
label(1114, 447, "Hallmark_Glycolysis", 14.9, "middle");
[464,669,876,1082,1289].forEach(function(y, i) {
  rich(label(363, y, null, 14.9, "middle"), prepLabels[i]);
  rich(label(936, y, null, 14.9, "middle"), prepLabels[i]);
});

// ---------- gsea panels ----------
var colLayout = [
  { x0: 78, x1: 348, title: 47, rank: 213 },
  { x0: 651, x1: 924, title: 620, rank: 787 },
  { x0: 979, x1: 1251, title: 946, rank: 1114 }
];
var rowLayout = [
  { esTop: 473, es0: 561, strip: [565,572], grad: [574,582], mY: [4,0,-1], mPx: [588,624,633], corrY: 589, crossY: [605,613], crossDx: -20, rankY: 651, esMid: 515, mMid: 610, ref: 16000, refX: [340,914,1240], stops: [[0,"#8b4c22"],[.45,"#c2987a"],[1,"#ffffff"]] },
  { esTop: 679, es0: 768, strip: [772,781], grad: [782,790], mY: [12,0,-12], mPx: [798,820,840], corrY: 796, crossY: [807,815], crossDx: 20, rankY: 847, esMid: 723, mMid: 818, ref: 14000, refX: [323,896,1220], stops: [[0,"#c2a08c"],[.72,"#ffffff"],[1,"#6c8a65"]] },
  { esTop: 885, es0: 975, strip: [979,987], grad: [988,996], mY: [15,0,-10], mPx: [1002,1029,1046], corrY: 1003, crossY: [1014,1022], crossDx: 20, rankY: 1055, esMid: 929, mMid: 1024, ref: 16000, refX: [349,922,1248], stops: [[0,"#c2a08c"],[.72,"#ffffff"],[1,"#6c8a65"]] },
  { esTop: 1091, es0: 1181, strip: [1185,1193], grad: [1194,1202], mY: [13,0,-10], mPx: [1208.3,1233,1252], corrY: 1209, crossY: [1220,1228], crossDx: 20, rankY: 1260, esMid: 1135, mMid: 1230, ref: 16000, refX: [349,922,1248], stops: [[0,"#c2a08c"],[.72,"#ffffff"],[1,"#6c8a65"]] },
  { esTop: [1297,1299,1298], es0: [1376,1373,1365], esBot: 1388, strip: [1392,1399], grad: [1401,1409], mY: [300,0], mPx: [1415,1460], corrY: 1415, rankY: 1487, esMid: 1342, mMid: 1437, ref: 4500, refX: [352,924,1250], stops: [[0,"#7a3e12"],[.3,"#e09a62"],[.6,"#f5c9a5"],[1,"#ffffff"]] }
];
var nesPos = [
  [[281,486],[281,692],[281,899],[281,1106],[283,1312]],
  [[855,487],[855,692],[855,899],[855,1106],[857,1312]],
  [[1181,487],[983,693],[1181,899],[1181,1106],[1184,1312]]
];
var allMetrics = [metricMapt, metricDuo, metricIle, metricCol, metricBaf];
var allEs = [
  [esAlz1, esAlz2, esAlz3, esAlz4, esAlz5],
  [esOx1, esOx2, esOx3, esOx4, esOx5],
  [esGly1, esGly2, esGly3, esGly4, esGly5]
];
var allHits = [
  [hitsAlz1, hitsAlz2, hitsAlz3, hitsAlz4, hitsAlz5],
  [hitsOx1, hitsOx2, hitsOx3, hitsOx4, hitsOx5],
  [hitsGly1, hitsGly2, hitsGly3, hitsGly4, hitsGly5]
];
var allBands = [
  [bandsAlz1, bandsAlz2, bandsAlz3, bandsAlz4, bandsAlz5],
  [bandsOx1, bandsOx2, bandsOx3, bandsOx4, bandsOx5],
  [[], [], [], [], []]
];
var allEsTicks = [esTicksAlz, esTicksOx, esTicksGly];
var allNes = [nesAlz, nesOx, nesGly], allFdr = [fdrAlz, fdrOx, fdrGly];
var hitColor = "#85858c";

function styleAxis(g, size) {
  g.select(".domain").attr("stroke", "#222").attr("stroke-width", 1.5);
  g.selectAll(".tick line").attr("stroke", "#222").attr("stroke-width", 1.1);
  g.selectAll("text").attr("font-size", size).style("fill", "#333")
    .style("font-family", '"Liberation Sans", Arial, sans-serif');
}

function drawGsea(c, r) {
  var col = colLayout[c], row = rowLayout[r];
  var x0 = r == 4 ? [81,654,980][c] : col.x0;
  var x1 = r == 4 ? [352,924,1250][c] : col.x1;
  var dy = (r == 0 && c > 0) ? 1.5 : 0;
  var refScale = d3.scaleLinear().domain([0, row.ref]).range([x0, row.refX[c]]);
  var xMax = refScale.invert(x1);
  var x = d3.scaleLinear().domain([0, xMax]).range([x0, x1]).clamp(true);

  var esData = allEs[c][r], metric = allMetrics[r];
  var esTicks = allEsTicks[c][r];
  var esMax = d3.max(esTicks);
  var esZeroPx = (r == 4 ? row.es0[c] : row.es0) + dy;
  var esTopPx = (r == 4 ? row.esTop[c] : row.esTop) + dy;
  var yEs = r == 4
    ? d3.scaleLinear().domain([esMax, 0, -.05]).range([esTopPx, esZeroPx, row.esBot])
    : d3.scaleLinear().domain([esMax, 0]).range([esTopPx, esZeroPx]);
  var yM = d3.scaleLinear().domain(row.mY).range(row.mPx.map(function(v) { return v + dy; }));

  var esAt = d3.scaleLinear().domain(esData.map(function(d) { return d[0]; })).range(esData.map(function(d) { return d[1]; }));
  var mAt = d3.scaleLinear().domain(metric.map(function(d) { return d[0]; })).range(metric.map(function(d) { return d[1]; }));
  var hits = allHits[c][r], bands = allBands[c][r];
  var lastRank = esData[esData.length - 1][0];
  var metricEnd = metric[metric.length - 1][0];

  var g = svg.append("g");

  // metric fill under the curve
  g.append("path").datum(metric).attr("fill", "#fcd9b4")
    .attr("d", d3.area().x(function(d) { return x(d[0]); }).y0(yM(0)).y1(function(d) { return yM(d[1]); }));

  // solid runs of hits
  bands.forEach(function(b) {
    var inside = [b[0]].concat(esData.map(function(d) { return d[0]; }).filter(function(v) { return v > b[0] && v < b[1]; }), [b[1]]);
    g.append("path").datum(inside).attr("fill", hitColor).attr("opacity", .85)
      .attr("d", d3.area().x(function(v) { return x(v); }).y0(yEs(0)).y1(function(v) { return yEs(esAt(v)); }));
    g.append("rect").attr("x", x(b[0])).attr("width", x(b[1]) - x(b[0]))
      .attr("y", row.strip[0] + dy).attr("height", row.strip[1] - row.strip[0]).attr("fill", hitColor).attr("opacity", .85);
    var insideM = [b[0]].concat(metric.map(function(d) { return d[0]; }).filter(function(v) { return v > b[0] && v < b[1]; }), [b[1]]);
    g.append("path").datum(insideM).attr("fill", hitColor).attr("opacity", .85)
      .attr("d", d3.area().x(function(v) { return x(v); }).y0(yM(0)).y1(function(v) { return yM(mAt(v)); }));
  });

  // single hits, in the score plot, the strip and the metric plot
  var hitG = g.append("g").attr("stroke", hitColor).attr("stroke-width", 1.55).attr("stroke-opacity", .56);
  hits.forEach(function(h) {
    if (h > lastRank) return;
    var px = x(h);
    hitG.append("line").attr("x1", px).attr("x2", px).attr("y1", yEs(0)).attr("y2", yEs(esAt(h)));
    hitG.append("line").attr("x1", px).attr("x2", px).attr("y1", row.strip[0] + dy).attr("y2", row.strip[1] + dy);
    hitG.append("line").attr("x1", px).attr("x2", px).attr("y1", yM(0)).attr("y2", yM(mAt(h)));
  });

  // colour bar
  var gid = "bar" + c + r;
  var lg = defs.append("linearGradient").attr("id", gid);
  row.stops.forEach(function(s) { lg.append("stop").attr("offset", s[0]).attr("stop-color", s[1]); });
  g.append("rect").attr("x", x(0)).attr("width", x(metricEnd) - x(0)).attr("y", row.grad[0] + dy).attr("height", row.grad[1] - row.grad[0]).attr("fill", "url(#" + gid + ")");

  // baseline and axes
  g.append("line").attr("x1", x0).attr("x2", x1).attr("y1", yEs(0)).attr("y2", yEs(0)).attr("stroke", "#222").attr("stroke-width", 1.4);
  var axEs = g.append("g").attr("transform", "translate(" + x0 + ",0)")
    .call(d3.axisLeft(yEs).tickValues(esTicks).tickSize(3).tickPadding(1).tickFormat(function(v) {
      return (c == 0 && r > 0 && r < 4) ? d3.format(".1f")(v) : d3.format(".2f")(v);
    }));
  styleAxis(axEs, 7.8);

  var axM = g.append("g").attr("transform", "translate(" + x0 + ",0)")
    .call(d3.axisLeft(yM).tickValues(metricTicks[r]).tickSize(3).tickPadding(1).tickFormat(d3.format("d")));
  styleAxis(axM, 8);

  var axX = g.append("g").attr("transform", "translate(0," + yM(0) + ")")
    .call(d3.axisBottom(x).tickValues(r == 4 ? xTicksBaf : (r == 1 ? xTicks14 : xTicks16)).tickSize(3).tickPadding(2).tickFormat(d3.format("d")));
  styleAxis(axX, 7.5);

  // zero crossing
  if (zeroCross[r] != null) {
    g.append("line").attr("x1", x(zeroCross[r])).attr("x2", x(zeroCross[r]))
      .attr("y1", row.mPx[0] + dy - 2).attr("y2", row.rankY - 8).attr("stroke", "#999").attr("stroke-width", .6).attr("stroke-dasharray", "2 1.5");
    var tx = x(zeroCross[r]) + row.crossDx;
    label(tx, row.crossY[0] + dy, "0 cross at", 7.4, "middle", "#333");
    label(tx, row.crossY[1] + dy, d3.format(",")(zeroCross[r]), 7.4, "middle", "#333");
  }

  // curves
  g.append("path").datum(metric).attr("fill", "none").attr("stroke", "#ff6a13").attr("stroke-width", 2.4)
    .attr("d", d3.line().x(function(d) { return x(d[0]); }).y(function(d) { return yM(d[1]); }));
  g.append("path").datum(esData).attr("fill", "none").attr("stroke", "#20c01c").attr("stroke-width", 1.9).attr("stroke-linejoin", "round")
    .attr("d", d3.line().x(function(d) { return x(d[0]); }).y(function(d) { return yEs(d[1]); }));

  // words
  label(x0 + (r == 4 ? 12 : 3), row.corrY + dy, "positively correlated", 7.2, "start", "#ee8a3c");
  if (r < 4) label(x1, row.corrY + dy, "negatively correlated", 7.2, "end", "#3f9a3c");
  vlabel(col.title, row.esMid + dy, "Enrichment score", 10.8);
  vlabel(col.title - 1, row.mMid + dy, "Ranked list metric", 10.8);
  vlabel(col.title + 11, row.mMid + dy, "(pre-ranked)", 10.8);
  label(r == 4 ? col.rank + 2 : col.rank, row.rankY + dy, "Rank in ordered dataset", 10, "middle", "#333");

  var np = nesPos[c][r];
  label(np[0], np[1], "NES=" + allNes[c][r], 10.4);
  rich(label(np[0], np[1] + 13, null, 10.4), [["FDR "], ["Q", "i"], [allFdr[c][r]]]);
}
for (var c = 0; c < 3; c++) for (var r = 0; r < 5; r++) drawGsea(c, r);

// ---------- leading edge heat maps ----------
var heatColors = { r: "#dc2a35", p: "#ec7585", d: "#c30000", b: "#9a86cc", l: "#d8a6d6" };
var heatLayout = [
  { big: [421,464,471,637], strips: [[472,487,542,637],[490,506,472,637],[508,524,472,637],[526,542,472,637],[544,560,472,637],[562,578,472,637]], box: [561,579,575,637], links: [[464,471,561,575],[464,637,561,637]], marks: heatMarks1, nos: 567, genes: 615, sets: [454,651] },
  { big: [421,461,677,843], strips: [[469,484,678,842],[487,501,678,842],[504,518,678,842],[521,535,678,842],[538,552,678,842],[555,569,678,821]], box: [468,485,731,794], links: [[461,677,468,731],[461,843,468,794]], marks: heatMarks2, nos: 760, genes: 821, sets: [454,857] },
  { big: [421,461,883,1050], strips: [[469,484,885,1049],[487,501,885,1049],[504,518,885,1049],[521,535,885,1049],[538,552,885,1049],[555,569,885,997]], box: [485,503,938,1001], links: [[461,883,485,938],[461,1050,485,1001]], marks: heatMarks3, nos: 967, genes: 1029, sets: [452,1064] },
  { big: [420,461,1093,1256], strips: [[467,483,1094,1255],[485,499,1094,1255],[502,516,1094,1255],[519,532,1094,1255],[535,549,1094,1255],[552,566,1094,1212]], box: [467,483,1093,1153], links: [[461,1093,467,1093],[461,1256,467,1153]], marks: heatMarks4, nos: 1095, genes: 1238, sets: [453,1270] },
  { big: [420,460,1302,1468], strips: [[467,481,1302,1467],[483,496,1302,1467],[499,513,1302,1467],[515,529,1302,1401]], box: [467,481,1302,1364], links: [[460,1302,467,1302],[460,1468,467,1364]], marks: heatMarks5, nos: 1445, genes: 1322, sets: [454,1481] }
];
var cyan = "#1fc4f4";

heatLayout.forEach(function(h) {
  var g = svg.append("g");
  h.links.forEach(function(l) {
    g.append("line").attr("x1", l[0]).attr("y1", l[1]).attr("x2", l[2]).attr("y2", l[3]).attr("stroke", cyan).attr("stroke-width", 1.8);
  });
  var boxes = [h.big].concat(h.strips);
  boxes.forEach(function(b) {
    g.append("rect").attr("x", b[0]).attr("y", b[2]).attr("width", b[1] - b[0]).attr("height", b[3] - b[2])
      .attr("fill", "#000").attr("stroke", "#cfcfcf").attr("stroke-width", .5);
  });
  h.marks.forEach(function(m) {
    var b = boxes[m[0]];
    var sx = d3.scaleLinear().domain([0,1]).range([b[0], b[1]]);
    var sy = d3.scaleLinear().domain([0,1]).range([b[2], b[3]]);
    var w = sx(m[2]) - b[0], ht = sy(m[4]) - sy(m[3]);
    var dash = m[0] == 0 ? "2.3 .6" : "1.8 .4";
    var ln = g.append("line").attr("stroke", heatColors[m[5]]);
    if (w >= ht) {
      var ym = sy((m[3] + m[4]) / 2);
      ln.attr("x1", Math.max(b[0], sx(m[1]) - w / 2)).attr("x2", Math.min(b[1], sx(m[1]) + w / 2)).attr("y1", ym).attr("y2", ym)
        .attr("stroke-width", Math.max(ht, 1.2)).attr("stroke-dasharray", dash);
    } else {
      ln.attr("x1", sx(m[1])).attr("x2", sx(m[1])).attr("y1", sy(m[3])).attr("y2", sy(m[4]))
        .attr("stroke-width", Math.max(w, 1)).attr("stroke-dasharray", dash);
    }
  });
  g.append("rect").attr("x", h.big[0]).attr("y", h.big[2]).attr("width", h.big[1] - h.big[0]).attr("height", h.big[3] - h.big[2])
    .attr("fill", "none").attr("stroke", cyan).attr("stroke-width", 2);
  g.append("rect").attr("x", h.box[0]).attr("y", h.box[2]).attr("width", h.box[1] - h.box[0]).attr("height", h.box[3] - h.box[2])
    .attr("fill", "none").attr("stroke", cyan).attr("stroke-width", 1.8);

  label(366, h.nos + 6, "Nos1", 16);
  svg.append("polygon").attr("points", [[407, h.nos - 6], [419, h.nos], [407, h.nos + 6], [410, h.nos]].join(" ")).attr("fill", "#000");
  vlabel(417, h.genes, "Genes", 14.6);
  label(h.sets[0], h.sets[1], "Gene sets", 14.6, "middle");
});
</script>
</body>
</html>
